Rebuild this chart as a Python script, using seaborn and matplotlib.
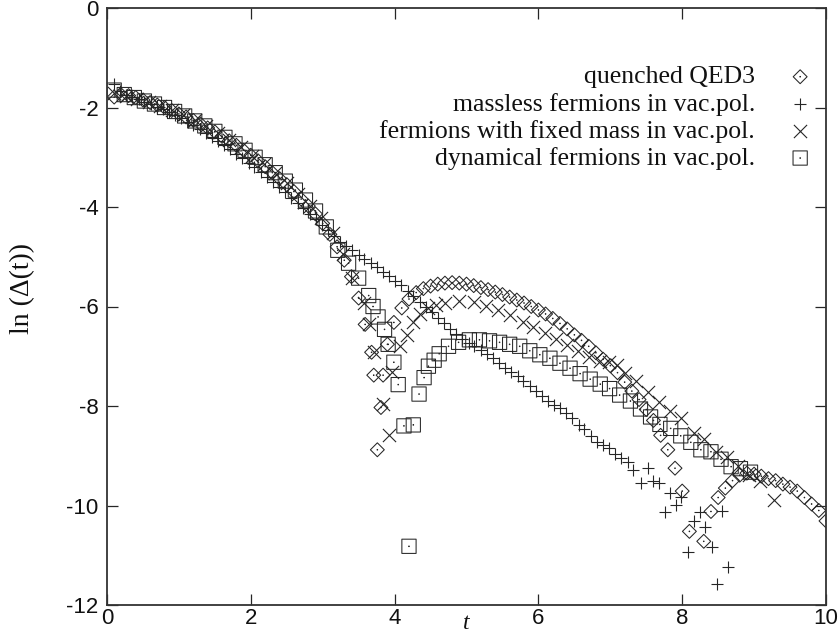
import numpy as np
import pandas as pd
import matplotlib
matplotlib.use("Agg")
import matplotlib.pyplot as plt
from matplotlib.path import Path
import seaborn as sns

# ---------------- data ----------------
quenched_t = [0.1, 0.2, 0.3, 0.4, 0.5, 0.6, 0.7, 0.8, 0.9, 1.0,
              1.1, 1.2, 1.3, 1.4, 1.5, 1.6, 1.7, 1.8, 1.9, 2.0,
              2.1, 2.2, 2.3, 2.4, 2.5, 2.6, 2.7, 2.8, 2.9, 3.0,
              3.1, 3.2, 3.3, 3.4, 3.5,
              3.59, 3.68, 3.71, 3.76, 3.81, 3.84, 3.9, 3.99, 4.1,
              4.2, 4.3, 4.4, 4.5, 4.6, 4.7, 4.8, 4.9, 5.0, 5.1,
              5.2, 5.3, 5.4, 5.5, 5.6, 5.7, 5.8, 5.9, 6.0, 6.1,
              6.2, 6.3, 6.4, 6.5, 6.6, 6.7, 6.8, 6.9, 7.0, 7.1,
              7.2, 7.3, 7.4, 7.5, 7.6, 7.7, 7.8, 7.9, 8.0, 8.1,
              8.3,
              8.4, 8.5, 8.6, 8.7, 8.8, 8.9, 9.0, 9.1, 9.2, 9.3,
              9.4, 9.5, 9.6, 9.7, 9.8, 9.9, 10.0]
quenched_y = [-1.79, -1.75, -1.76, -1.80, -1.85, -1.90, -1.95, -2.00, -2.06, -2.13,
              -2.19, -2.26, -2.33, -2.41, -2.49, -2.58, -2.67, -2.76, -2.86, -2.96,
              -3.07, -3.19, -3.31, -3.43, -3.55, -3.69, -3.84, -3.98, -4.14, -4.33,
              -4.55, -4.80, -5.07, -5.40, -5.83,
              -6.36, -6.92, -7.38, -8.88, -8.03, -7.38, -6.76, -6.32, -6.03,
              -5.85, -5.72, -5.64, -5.59, -5.55, -5.53, -5.52, -5.53, -5.55, -5.58,
              -5.62, -5.66, -5.71, -5.76, -5.81, -5.87, -5.93, -6.00, -6.07, -6.15,
              -6.24, -6.34, -6.45, -6.57, -6.68, -6.80, -6.93, -7.06, -7.19, -7.33,
              -7.52, -7.70, -7.87, -8.07, -8.29, -8.59, -8.88, -9.25, -9.71, -10.52,
              -10.72,
              -10.12, -9.84, -9.65, -9.50, -9.39, -9.35, -9.37, -9.41, -9.46, -9.50,
              -9.57, -9.63, -9.71, -9.84, -9.97, -10.10, -10.31]

massless_t = [0.10, 0.18, 0.27, 0.35, 0.44, 0.52, 0.61, 0.69, 0.78, 0.86,
              0.95, 1.03, 1.12, 1.20, 1.29, 1.37, 1.46, 1.54, 1.63, 1.71,
              1.80, 1.88, 1.97, 2.05, 2.14, 2.22, 2.31, 2.39, 2.48, 2.56,
              2.65, 2.73, 2.82, 2.90, 2.99, 3.07, 3.16, 3.24, 3.33, 3.41,
              3.50, 3.58, 3.67, 3.75, 3.84, 3.92, 4.01, 4.09, 4.18, 4.26,
              4.35, 4.43, 4.52, 4.60, 4.69, 4.77, 4.86, 4.94, 5.03, 5.11,
              5.20, 5.28, 5.37, 5.45, 5.54, 5.62, 5.71, 5.79, 5.88, 5.96,
              6.05, 6.13, 6.22, 6.30, 6.39, 6.47, 6.56, 6.64, 6.73, 6.81,
              6.90, 6.98, 7.07, 7.15, 7.24, 7.32, 7.43, 7.52, 7.59, 7.68,
              7.76, 7.83, 7.92, 7.99, 8.08, 8.16, 8.25, 8.32, 8.41, 8.48,
              8.56, 8.64]
massless_y = [-1.52, -1.66, -1.74, -1.78, -1.83, -1.88, -1.93, -1.98, -2.04, -2.10,
              -2.16, -2.22, -2.29, -2.36, -2.44, -2.51, -2.59, -2.67, -2.76, -2.84,
              -2.93, -3.02, -3.11, -3.20, -3.30, -3.40, -3.50, -3.60, -3.70, -3.81,
              -3.92, -4.03, -4.14, -4.25, -4.36, -4.47, -4.58, -4.70, -4.79, -4.87,
              -4.96, -5.04, -5.13, -5.21, -5.30, -5.39, -5.48, -5.57, -5.68, -5.79,
              -5.90, -6.01, -6.12, -6.23, -6.34, -6.45, -6.56, -6.65, -6.73, -6.80,
              -6.88, -6.95, -7.04, -7.13, -7.23, -7.31, -7.40, -7.49, -7.59, -7.69,
              -7.79, -7.89, -7.98, -8.05, -8.14, -8.25, -8.38, -8.47, -8.60, -8.73,
              -8.78, -8.85, -8.97, -9.05, -9.12, -9.29, -9.54, -9.25, -9.50, -9.54,
              -10.14, -9.75, -9.99, -9.82, -10.94, -10.31, -10.14, -10.43, -10.84, -11.58,
              -10.12, -11.24]

fixed_t = [0.10, 0.26, 0.42, 0.58, 0.74, 0.90, 1.06, 1.22, 1.38, 1.54,
           1.70, 1.86, 2.02, 2.18, 2.34, 2.50, 2.66, 2.82, 2.98, 3.14,
           3.28, 3.41, 3.57, 3.65, 3.72, 3.84, 3.92, 3.97, 4.08, 4.17,
           4.25, 4.36, 4.47, 4.58, 4.70, 4.90, 5.10, 5.27, 5.44, 5.60,
           5.78, 5.93, 6.09, 6.24, 6.40, 6.55, 6.70, 6.86, 6.98, 7.10,
           7.21, 7.36, 7.52, 7.68, 7.83, 7.99, 8.16, 8.31, 8.47, 8.62,
           8.78, 8.93, 9.08, 9.28]
fixed_y = [-1.70, -1.76, -1.82, -1.88, -1.96, -2.05, -2.15, -2.26, -2.38, -2.51,
           -2.65, -2.80, -2.97, -3.14, -3.32, -3.52, -3.74, -3.97, -4.22, -4.52,
           -4.95, -5.43, -5.92, -6.35, -6.91, -7.95, -8.58, -7.31, -6.80, -6.57,
           -6.32, -6.15, -6.04, -5.97, -5.93, -5.89, -5.90, -5.98, -6.08, -6.18,
           -6.31, -6.42, -6.53, -6.66, -6.78, -6.90, -7.01, -7.09, -7.12, -7.17,
           -7.33, -7.50, -7.72, -7.91, -8.10, -8.24, -8.54, -8.67, -8.93, -9.03,
           -9.20, -9.38, -9.50, -9.88]

dynamical_t = [0.10, 0.24, 0.38, 0.52, 0.66, 0.80, 0.94, 1.08, 1.22, 1.36,
               1.50, 1.64, 1.78, 1.92, 2.06, 2.20, 2.34, 2.48, 2.62, 2.76,
               2.90, 3.05, 3.21, 3.36, 3.50, 3.64, 3.70, 3.77, 3.86, 3.91,
               3.99, 4.05, 4.13, 4.20, 4.26, 4.34, 4.41, 4.47, 4.55, 4.62,
               4.75, 4.89, 5.04, 5.18, 5.32, 5.46, 5.60, 5.74, 5.88, 6.02,
               6.16, 6.30, 6.44, 6.58, 6.72, 6.86, 6.99, 7.13, 7.28, 7.42,
               7.56, 7.69, 7.84, 7.98, 8.12, 8.26, 8.40, 8.54, 8.68, 8.81,
               8.95]
dynamical_y = [-1.65, -1.74, -1.80, -1.87, -1.93, -2.00, -2.08, -2.17, -2.27, -2.37,
               -2.48, -2.60, -2.73, -2.86, -3.00, -3.15, -3.31, -3.48, -3.66, -3.86,
               -4.08, -4.40, -4.87, -5.13, -5.43, -5.78, -6.00, -6.21, -6.46, -6.76,
               -7.12, -7.57, -8.40, -10.82, -8.38, -7.76, -7.43, -7.20, -7.08, -6.95,
               -6.80, -6.72, -6.67, -6.67, -6.69, -6.72, -6.76, -6.80, -6.89, -6.97,
               -7.04, -7.14, -7.24, -7.35, -7.46, -7.56, -7.65, -7.78, -7.90, -8.06,
               -8.22, -8.37, -8.45, -8.60, -8.73, -8.88, -8.92, -9.07, -9.22, -9.26,
               -9.33]

labels = ["quenched QED3",
          "massless fermions in vac.pol.",
          "fermions with fixed mass in vac.pol.",
          "dynamical fermions in vac.pol."]
x_ticks = [0, 2, 4, 6, 8, 10]
y_ticks = [0, -2, -4, -6, -8, -10, -12]

# ---------------- style ----------------
sns.set_style("ticks")
plt.rcParams["font.family"] = ["Liberation Sans Narrow", "Liberation Sans", "DejaVu Sans"]
plt.rcParams["axes.unicode_minus"] = False
SERIF = ["Liberation Serif", "DejaVu Serif"]
INK = "#262626"

# gnuplot-like open markers with a centre dot
def open_marker(outline):
    dot = [(0.0, 0.05), (0.05, 0.0), (0.0, -0.05), (-0.05, 0.0), (0.0, 0.05)]
    verts = list(outline) + dot
    codes = ([Path.MOVETO] + [Path.LINETO] * (len(outline) - 2) + [Path.CLOSEPOLY]
             + [Path.MOVETO] + [Path.LINETO] * 3 + [Path.CLOSEPOLY])
    return Path(verts, codes)

diamond = open_marker([(0, 1), (1, 0), (0, -1), (-1, 0), (0, 1)])
square = open_marker([(-1, -1), (1, -1), (1, 1), (-1, 1), (-1, -1)])

fig = plt.figure(figsize=(8.4, 6.38), dpi=100)
L, R, T, B = 107, 826, 8, 605
ax = fig.add_axes([L / 840, 1 - B / 638, (R - L) / 840, (B - T) / 638])

df_q = pd.DataFrame({"t": quenched_t, "lnD": quenched_y})
df_m = pd.DataFrame({"t": massless_t, "lnD": massless_y})
df_f = pd.DataFrame({"t": fixed_t, "lnD": fixed_y})
df_d = pd.DataFrame({"t": dynamical_t, "lnD": dynamical_y})

sns.scatterplot(data=df_q, x="t", y="lnD", marker=diamond, s=100,
                facecolor="none", edgecolor=INK, linewidth=0.75,
                label=labels[0], ax=ax)
sns.scatterplot(data=df_m, x="t", y="lnD", marker="+", s=70,
                color=INK, linewidth=0.8, label=labels[1], ax=ax)
sns.scatterplot(data=df_f, x="t", y="lnD", marker="x", s=90,
                color=INK, linewidth=0.8, label=labels[2], ax=ax)
sns.scatterplot(data=df_d, x="t", y="lnD", marker=square, s=105,
                facecolor="none", edgecolor=INK, linewidth=0.75,
                label=labels[3], ax=ax)

ax.set_xlim(0, 10)
ax.set_ylim(-12, 0)
ax.set_xticks(x_ticks)
ax.set_yticks(y_ticks)
ax.set_xticklabels([str(v) for v in x_ticks])
ax.set_yticklabels([str(v) for v in y_ticks])
ax.tick_params(direction="in", length=8, width=0.9, top=True, right=True,
               labelsize=16, color=INK, labelcolor="#111111")
ax.tick_params(axis="x", pad=2)
ax.tick_params(axis="y", pad=6)
for sp in ax.spines.values():
    sp.set_visible(True)
    sp.set_linewidth(1.3)
    sp.set_color("#333333")

ax.set_xlabel("t", fontsize=17, family=SERIF, style="italic", color="#111111")
ax.set_ylabel("ln (Δ(t))", fontsize=20, family=SERIF, color="#111111")
ax.xaxis.set_label_coords(0.5, -0.014)
ax.yaxis.set_label_coords(-0.100, 0.53)

leg = ax.legend(loc="upper right", bbox_to_anchor=(813 / 840, 1 - 65.5 / 638),
                bbox_transform=fig.transFigure, frameon=False, markerfirst=False,
                prop={"family": SERIF, "size": 18.5}, handlelength=1.0,
                handletextpad=1.25, labelspacing=0.16, borderpad=0,
                borderaxespad=0, scatterpoints=1)
for txt in leg.get_texts():
    txt.set_color("#111111")

fig.savefig("out.png", dpi=100, facecolor="white")
